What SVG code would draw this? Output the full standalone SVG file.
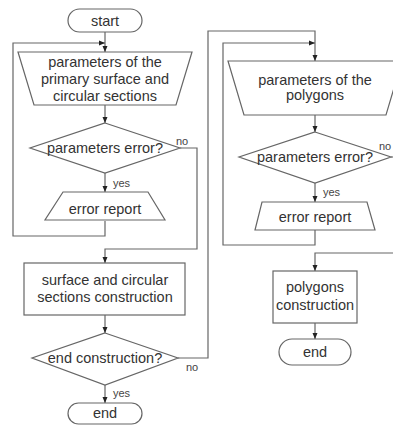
<svg xmlns="http://www.w3.org/2000/svg" width="393" height="425" viewBox="0 0 393 425">
<defs>
<marker id="ah" viewBox="0 0 6 6" refX="6" refY="3" markerWidth="6" markerHeight="6" orient="auto" markerUnits="userSpaceOnUse">
<path d="M0,0.5 L6,3 L0,5.5 Z" fill="#222"/>
</marker>
<style>
.s{fill:#fff;stroke:#666;stroke-width:1.2}
.c{fill:none;stroke:#666;stroke-width:1.2;marker-end:url(#ah)}
.t{font-family:"Liberation Sans",Arial,sans-serif;font-size:14.5px;fill:#333;text-anchor:middle}
.l{font-family:"Liberation Sans",Arial,sans-serif;font-size:11px;fill:#444}
</style>
</defs>
<rect width="393" height="425" fill="#fff"/>
<g id="connectors">
<path class="c" d="M105,32 V52"/>
<path class="c" d="M105,221 V236 H13 V43 H105"/>
<path class="c" d="M105,105 V123"/>
<path class="c" d="M105,173 V192"/>
<path class="c" d="M180,148 H197 V249 H105 V263"/>
<path class="c" d="M105,315 V333"/>
<path class="c" d="M105,385 V403"/>
<path class="c" d="M178,358 H208 V31 H315 V61"/>
<path class="c" d="M315,230 V245 H223 V43 H315"/>
<path class="c" d="M315,115 V132"/>
<path class="c" d="M315,183 V202"/>
<path class="c" d="M391,157 H398 V253 H315 V271"/>
<path class="c" d="M315,323 V339"/>
<text class="l" x="176" y="145">no</text>
<text class="l" x="113" y="187">yes</text>
<text class="l" x="186" y="371">no</text>
<text class="l" x="113" y="397">yes</text>
<text class="l" x="379" y="150">no</text>
<text class="l" x="323" y="196">yes</text>
</g>
<g id="start">
<rect class="s" x="68" y="9" width="74" height="23" rx="11.5"/>
<text class="t" x="105" y="26">start</text>
</g>
<g id="params1">
<path class="s" d="M18,52 H192 L176,105 H34 Z"/>
<text class="t" x="105" y="67">parameters of the</text>
<text class="t" x="105" y="84">primary surface and</text>
<text class="t" x="105" y="101">circular sections</text>
</g>
<g id="check1">
<path class="s" d="M105,123 L180,148 L105,173 L30,148 Z"/>
<text class="t" x="105" y="153">parameters error?</text>
</g>
<g id="error1">
<path class="s" d="M63,192 H148 L165,220 H45 Z"/>
<text class="t" x="105" y="214">error report</text>
</g>
<g id="construct1">
<rect class="s" x="24" y="263" width="161" height="52"/>
<text class="t" x="105" y="285">surface and circular</text>
<text class="t" x="105" y="302">sections construction</text>
</g>
<g id="check2">
<path class="s" d="M105,333 L178,358 L105,385 L32,358 Z"/>
<text class="t" x="105" y="363">end construction?</text>
</g>
<g id="end1">
<rect class="s" x="68" y="403" width="74" height="21" rx="10.5"/>
<text class="t" x="105" y="418">end</text>
</g>
<g id="params2">
<path class="s" d="M228,61 H402 L386,115 H244 Z"/>
<text class="t" x="315" y="85">parameters of the</text>
<text class="t" x="315" y="100">polygons</text>
</g>
<g id="check3">
<path class="s" d="M315,132 L391,157 L315,183 L239,157 Z"/>
<text class="t" x="315" y="162">parameters error?</text>
</g>
<g id="error2">
<path class="s" d="M262,202 H367 L375,230 H255 Z"/>
<text class="t" x="315" y="222">error report</text>
</g>
<g id="construct2">
<rect class="s" x="273" y="271" width="84" height="52"/>
<text class="t" x="315" y="292">polygons</text>
<text class="t" x="315" y="310">construction</text>
</g>
<g id="end2">
<rect class="s" x="279" y="339" width="72" height="26" rx="13"/>
<text class="t" x="315" y="357">end</text>
</g>
</svg>
